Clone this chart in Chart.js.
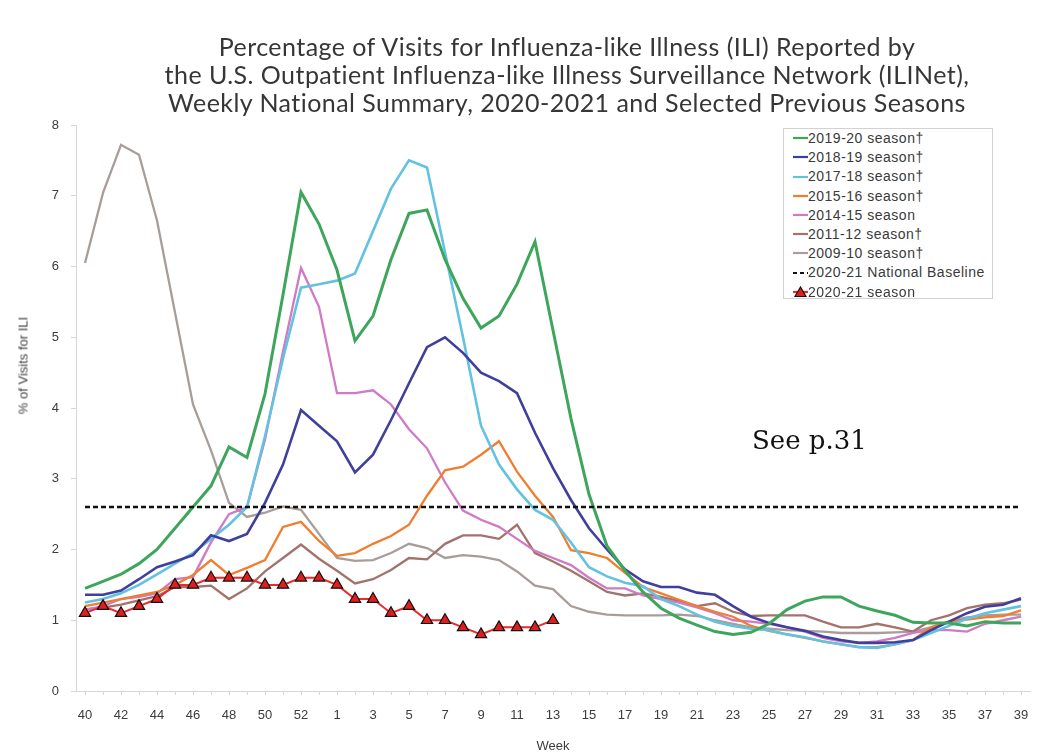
<!DOCTYPE html>
<html>
<head>
<meta charset="utf-8">
<script src="https://cdn.jsdelivr.net/npm/chart.js@4.4.0/dist/chart.umd.min.js"></script>
<style>
  html, body { margin: 0; padding: 0; background: #fff; }
  #wrap { position: relative; width: 1054px; height: 754px; overflow: hidden; }
  #ili { position: absolute; left: 0; top: 0; }
  #title {
    position: absolute; left: 0; top: 32px; width: 1134px;
    text-align: center; font-family: Lato, "Open Sans", sans-serif;
    font-size: 25px; letter-spacing: 0.45px; line-height: 28px; color: #363636;
  }
  #ytitle {
    position: absolute; left: 23px; top: 358px; width: 200px; margin-left: -100px;
    text-align: center; transform: rotate(-90deg);
    font-family: "Liberation Sans", Arial, sans-serif; font-size: 13px; color: #404040;
  }
  #legend {
    position: absolute; left: 783px; top: 128px; width: 210px; height: 171px;
    border: 1px solid #d2d2d2; background: #fff; box-sizing: border-box;
    padding: 0 0 0 9px;
    font-family: "Liberation Sans", Arial, sans-serif; font-size: 14px;
    letter-spacing: 0.5px; color: #3a3a3a;
  }
  #legend .row { height: 19.2px; line-height: 19.2px; white-space: nowrap; }
  #legend svg { vertical-align: middle; margin-top: -2px; }
  #note {
    position: absolute; left: 752px; top: 425px;
    font-family: "DejaVu Serif", "Liberation Serif", serif; font-size: 26px; color: #111;
  }
</style>
</head>
<body>
<div id="wrap">
  <canvas id="ili" width="1054" height="754"></canvas>
  <div id="title">Percentage of Visits for Influenza-like Illness (ILI) Reported by<br>the U.S. Outpatient Influenza-like Illness Surveillance Network (ILINet),<br>Weekly National Summary, 2020-2021 and Selected Previous Seasons</div>
  <div id="ytitle">% of Visits for ILI</div>
  <div id="legend"></div>
  <div id="note">See p.31</div>
</div>
<script>
// MMWR weeks 40..53, 1..39
const weekLabels = ['40','41','42','43','44','45','46','47','48','49','50','51','52','53',
  '1','2','3','4','5','6','7','8','9','10','11','12','13','14','15','16','17','18','19','20',
  '21','22','23','24','25','26','27','28','29','30','31','32','33','34','35','36','37','38','39'];

const season1920 = [1.45,1.55,1.65,1.8,2.0,2.3,2.6,2.9,3.45,3.3,4.2,5.6,7.05,6.6,
  5.95,4.95,5.3,6.1,6.75,6.8,6.1,5.55,5.13,5.3,5.75,6.35,5.1,3.85,2.78,2.05,1.7,1.4,1.17,1.03,
  0.93,0.84,0.8,0.83,0.95,1.15,1.27,1.33,1.33,1.2,1.13,1.07,0.97,0.96,0.96,0.92,0.98,0.96,0.96];
const season1819 = [1.36,1.36,1.42,1.58,1.75,1.83,1.92,2.2,2.12,2.22,2.66,3.2,3.97,3.75,
  3.53,3.09,3.34,3.83,4.35,4.86,5.0,4.78,4.5,4.38,4.21,3.65,3.15,2.7,2.3,2.0,1.72,1.55,1.47,1.47,
  1.39,1.36,1.2,1.05,0.96,0.9,0.85,0.77,0.72,0.68,0.68,0.69,0.72,0.86,0.98,1.1,1.19,1.22,1.31];
const season1718 = [1.25,1.3,1.38,1.5,1.65,1.8,1.95,2.15,2.35,2.6,3.6,4.7,5.7,5.75,
  5.8,5.9,6.5,7.1,7.5,7.4,6.2,5.0,3.75,3.2,2.85,2.56,2.42,2.1,1.75,1.62,1.53,1.48,1.3,1.2,
  1.08,0.98,0.92,0.88,0.86,0.8,0.76,0.7,0.66,0.62,0.61,0.66,0.72,0.82,0.92,1.02,1.1,1.15,1.2];
const season1516 = [1.2,1.25,1.3,1.35,1.4,1.5,1.64,1.85,1.64,1.74,1.85,2.32,2.39,2.12,
  1.91,1.95,2.08,2.19,2.35,2.76,3.12,3.17,3.34,3.53,3.1,2.76,2.46,1.99,1.95,1.88,1.67,1.47,1.38,1.29,
  1.2,1.12,1.05,0.92,0.85,0.8,0.75,0.7,0.66,0.62,0.62,0.66,0.72,0.9,0.98,1.01,1.04,1.06,1.14];
const season1415 = [1.15,1.2,1.3,1.33,1.38,1.58,1.61,2.1,2.5,2.6,3.55,4.8,5.98,5.43,
  4.21,4.21,4.25,4.05,3.7,3.43,2.95,2.55,2.42,2.32,2.15,1.98,1.88,1.78,1.6,1.45,1.45,1.35,1.3,1.25,
  1.18,1.1,1.0,0.98,0.95,0.9,0.84,0.75,0.7,0.68,0.7,0.75,0.82,0.86,0.86,0.84,0.95,1.0,1.05];
const season1112 = [1.15,1.18,1.22,1.28,1.34,1.47,1.47,1.49,1.3,1.45,1.69,1.88,2.07,1.87,
  1.7,1.52,1.58,1.71,1.88,1.86,2.08,2.2,2.2,2.15,2.35,1.95,1.83,1.7,1.55,1.4,1.35,1.38,1.33,1.27,
  1.2,1.24,1.12,1.06,1.07,1.07,1.07,0.98,0.9,0.9,0.95,0.9,0.84,1.0,1.07,1.17,1.22,1.24,1.29];
const season0910 = [6.05,7.04,7.72,7.58,6.65,5.35,4.05,3.4,2.66,2.46,2.52,2.61,2.56,2.22,
  1.88,1.84,1.85,1.95,2.08,2.02,1.88,1.92,1.9,1.85,1.69,1.49,1.44,1.2,1.12,1.08,1.07,1.07,1.07,1.08,
  1.06,1.0,0.95,0.9,0.88,0.86,0.85,0.84,0.82,0.82,0.82,0.83,0.84,0.9,0.98,1.04,1.07,1.08,1.08];
// current season, reported through week 13
const season2021 = [1.1,1.2,1.1,1.2,1.3,1.5,1.5,1.6,1.6,1.6,1.5,1.5,1.6,1.6,
  1.5,1.3,1.3,1.1,1.2,1.0,1.0,0.9,0.8,0.9,0.9,0.9,1.0];
const nationalBaseline = 2.6;

const yTicks = [0,1,2,3,4,5,6,7,8];

function seasonLine(label, data, color, width) {
  return {
    label: label,
    data: data,
    borderColor: color,
    backgroundColor: color,
    borderWidth: width,
    pointRadius: 0,
    tension: 0,
    order: 2
  };
}

const datasets = [
  seasonLine('2019-20 season†', season1920, '#3ea65c', 3),
  seasonLine('2018-19 season†', season1819, '#40409c', 2.6),
  seasonLine('2017-18 season†', season1718, '#63c2e2', 2.6),
  seasonLine('2015-16 season†', season1516, '#f07e2e', 2.3),
  seasonLine('2014-15 season', season1415, '#d07ac6', 2.3),
  seasonLine('2011-12 season†', season1112, '#a2726c', 2.3),
  seasonLine('2009-10 season†', season0910, '#a89d99', 2.3),
  {
    label: '2020-21 National Baseline',
    data: [
      { x: weekLabels[0], y: nationalBaseline },
      { x: weekLabels[weekLabels.length - 1], y: nationalBaseline }
    ],
    borderColor: '#111',
    backgroundColor: '#111',
    borderWidth: 2.5,
    borderDash: [5, 3],
    pointRadius: 0,
    order: 1
  },
  {
    label: '2020-21 season',
    data: season2021,
    borderColor: '#ec2a2a',
    backgroundColor: '#e01f1c',
    borderWidth: 2,
    pointStyle: 'triangle',
    pointRadius: 6.5,
    pointBorderColor: '#111',
    pointBorderWidth: 1.2,
    tension: 0,
    order: 0
  }
];

const tickFont = { family: '"Liberation Sans", Arial, sans-serif', size: 13 };

const chart = new Chart(document.getElementById('ili'), {
  type: 'line',
  data: { labels: weekLabels, datasets: datasets },
  options: {
    responsive: false,
    animation: false,
    layout: { padding: { top: 125, right: 24, left: 0, bottom: 0 } },
    plugins: {
      legend: { display: false },
      tooltip: { enabled: false }
    },
    scales: {
      x: {
        offset: true,
        grid: { drawOnChartArea: false, tickLength: 4, color: '#d6d6d6' },
        border: { color: '#d6d6d6' },
        ticks: {
          autoSkip: false,
          maxRotation: 0,
          padding: 13,
          color: '#3c3c3c',
          font: tickFont,
          callback: function(value, index) {
            return index % 2 === 0 ? this.getLabelForValue(value) : '';
          }
        },
        title: {
          display: true,
          text: 'Week',
          color: '#3c3c3c',
          font: tickFont,
          padding: { top: 0, bottom: 0 }
        },
        afterFit: (scale) => { scale.height = 63; }
      },
      y: {
        min: 0,
        max: 8,
        afterBuildTicks: (scale) => { scale.ticks = yTicks.map(v => ({ value: v })); },
        grid: { drawOnChartArea: false, tickLength: 5, color: '#d6d6d6' },
        border: { color: '#d6d6d6' },
        ticks: { padding: 12, color: '#3c3c3c', font: tickFont },
        afterFit: (scale) => { scale.width = 76; }
      }
    }
  }
});

// legend box inside the plot, built from the datasets
const legendEl = document.getElementById('legend');
chart.data.datasets.forEach(ds => {
  const row = document.createElement('div');
  row.className = 'row';
  let svg = '<svg width="15" height="12" viewBox="0 0 15 12">';
  if (ds.borderDash) {
    svg += '<line x1="0" y1="6" x2="15" y2="6" stroke="' + ds.borderColor + '" stroke-width="2" stroke-dasharray="4 3"/>';
  } else {
    svg += '<line x1="0" y1="6" x2="15" y2="6" stroke="' + ds.borderColor + '" stroke-width="2.2"/>';
  }
  if (ds.pointStyle === 'triangle') {
    svg += '<polygon points="7.5,1 13,10.5 2,10.5" fill="' + ds.backgroundColor + '" stroke="#111" stroke-width="1.2"/>';
  }
  svg += '</svg>';
  row.innerHTML = svg;
  row.appendChild(document.createTextNode(ds.label));
  legendEl.appendChild(row);
});
</script>
</body>
</html>
